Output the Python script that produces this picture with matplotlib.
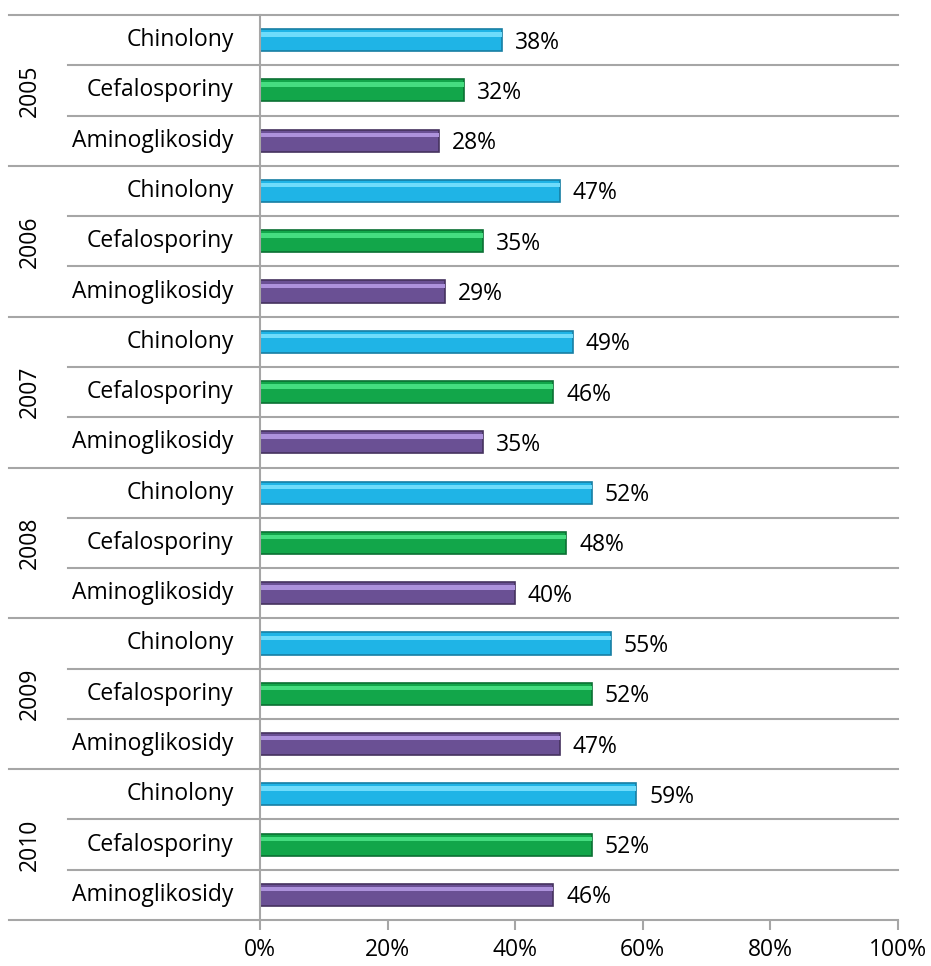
import matplotlib.pyplot as plt
import matplotlib.transforms as mtransforms

# Dane
lata = ["2005", "2006", "2007", "2008", "2009", "2010"]
grupy = ["Chinolony", "Cefalosporiny", "Aminoglikosidy"]
chinolony = [38, 47, 49, 52, 55, 59]
cefalosporiny = [32, 35, 46, 48, 52, 52]
aminoglikosidy = [28, 29, 35, 40, 47, 46]
x_ticks = [0, 20, 40, 60, 80, 100]

# kolory: główny, jasny pasek u góry, ciemna krawędź
kolory = {
    "Chinolony": ("#1fb4e6", "#6fdcfb", "#177ea3"),
    "Cefalosporiny": ("#12a64a", "#45dd80", "#0b7033"),
    "Aminoglikosidy": ("#6a5094", "#ad92dc", "#45325f"),
}

plt.rcParams["font.family"] = ["Open Sans", "DejaVu Sans"]
szary = "#a6a6a6"
fs = 16.5

fig = plt.figure(figsize=(9.31, 9.66), dpi=100)
W, H = 931, 966
ax = fig.add_axes([260 / W, 1 - 920 / H, (898 - 260) / W, (920 - 15) / H])

wartosci = {"Chinolony": chinolony, "Cefalosporiny": cefalosporiny,
            "Aminoglikosidy": aminoglikosidy}
trans = mtransforms.blended_transform_factory(ax.transAxes, ax.transData)

h = 0.44
for i, rok in enumerate(lata):
    for j, g in enumerate(grupy):
        y = i * 3 + j
        v = wartosci[g][i]
        c, jasny, ciemny = kolory[g]
        ax.barh(y, v, height=h, color=c, edgecolor=ciemny, linewidth=1.2, zorder=3)
        ax.barh(y - h * 0.26, v, height=h * 0.2, color=jasny, linewidth=0, zorder=4)
        ax.text(v + 2, y + 0.05, f"{v}%", va="center", ha="left", fontsize=fs, zorder=5)
        ax.text(-0.041, y, g, transform=trans, ha="right", va="center", fontsize=fs)

ax.set_xlim(0, 100)
ax.set_ylim(17.5, -0.5)

for k in range(19):
    yb = k - 0.5
    x0 = -0.393 if k % 3 == 0 else -0.301
    ax.plot([x0, 1.0], [yb, yb], color=szary, lw=1.5, transform=trans, clip_on=False, zorder=1)

for i, rok in enumerate(lata):
    ax.text(-0.36, i * 3 + 1, rok, transform=trans, rotation=90,
            ha="center", va="center", fontsize=fs)

for s in ["top", "right", "bottom"]:
    ax.spines[s].set_visible(False)
ax.spines["left"].set_color(szary)
ax.spines["left"].set_linewidth(1.5)
ax.spines["left"].set_zorder(6)

ax.set_yticks([])
ax.set_xticks(x_ticks)
ax.set_xticklabels([f"{t}%" for t in x_ticks], fontsize=fs)
ax.tick_params(axis="x", length=7, width=1.5, color=szary, pad=6)

fig.savefig("out.png", dpi=100)
